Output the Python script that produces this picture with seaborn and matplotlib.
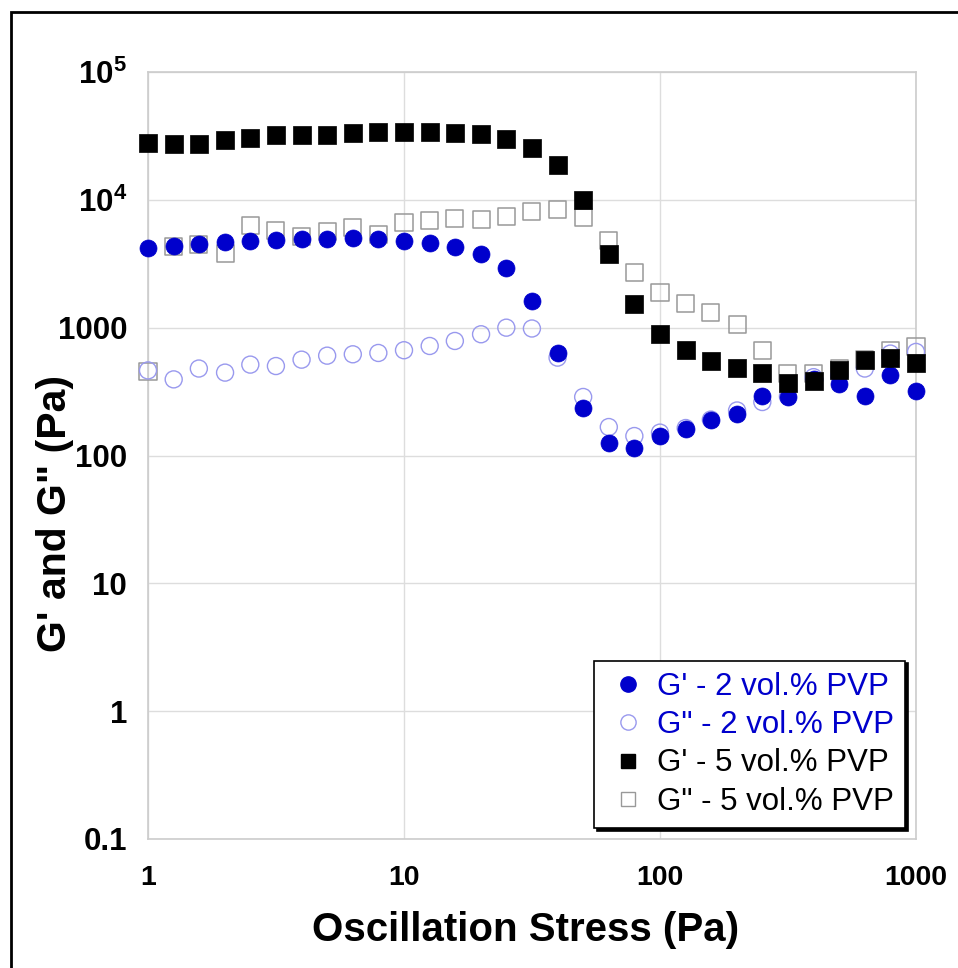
import matplotlib
matplotlib.use("Agg")
import matplotlib.pyplot as plt
import seaborn as sns
import pandas as pd
from matplotlib.lines import Line2D
from matplotlib.patches import Rectangle

stress = [1, 1.26, 1.58, 2.0, 2.51, 3.16, 3.98, 5.01, 6.31, 7.94,
          10, 12.6, 15.8, 20, 25.1, 31.6, 39.8, 50.1, 63.1, 79.4,
          100, 126, 158, 200, 251, 316, 398, 501, 631, 794, 1000]

g1_2 = [4210, 4340, 4480, 4640, 4750, 4840, 4930, 4930, 5010, 4930,
        4780, 4560, 4290, 3760, 2940, 1620, 634, 235, 126, 115,
        142, 160, 188, 212, 290, 287, 400, 365, 290, 424, 319]
g2_2 = [463, 394, 479, 445, 514, 501, 562, 604, 619, 634,
        666, 719, 787, 888, 1000, 985, 583, 287, 167, 142,
        151, 164, 191, 225, 262, 290, 410, 420, 479, 627, 646]
g1_5 = [28000, 27300, 27300, 29400, 30300, 32100, 32100, 32100, 33100, 34100,
        34000, 34100, 33500, 32500, 30100, 25500, 18600, 10000, 3760, 1520,
        887, 665, 548, 483, 441, 369, 380, 470, 562, 579, 533]
g2_5 = [458, 4290, 4480, 3800, 6310, 5720, 5200, 5610, 6040, 5390,
        6610, 6930, 7150, 7060, 7360, 8060, 8410, 7330, 4780, 2680,
        1880, 1550, 1320, 1060, 658, 438, 441, 480, 560, 665, 706]

labels = ["G' - 2 vol.% PVP", "G\" - 2 vol.% PVP", "G' - 5 vol.% PVP", "G\" - 5 vol.% PVP"]
x_ticks = [1, 10, 100, 1000]
x_ticklabels = ["1", "10", "100", "1000"]
y_ticks = [0.1, 1, 10, 100, 1000, 1e4, 1e5]
y_ticklabels = ["0.1", "1", "10", "100", "1000", r"10$^{4}$", r"10$^{5}$"]

sns.set_theme(style="white")
plt.rcParams['font.family'] = ['Liberation Sans', 'DejaVu Sans']
plt.rcParams['mathtext.fontset'] = 'custom'
plt.rcParams['mathtext.rm'] = 'Liberation Sans:bold'
plt.rcParams['mathtext.default'] = 'rm'
plt.rcParams['text.color'] = 'black'
plt.rcParams['axes.labelcolor'] = 'black'
plt.rcParams['xtick.color'] = 'black'
plt.rcParams['ytick.color'] = 'black'

W, H = 958, 968
fig = plt.figure(figsize=(W / 100, H / 100), dpi=100)
ax = fig.add_axes([148 / W, 1 - 839 / H, (916 - 148) / W, (839 - 72) / H])

blue = "#0000CC"
lightblue = "#9999EE"
gray = "#999999"

df = pd.DataFrame({"stress": stress, "g1_2": g1_2, "g2_2": g2_2, "g1_5": g1_5, "g2_5": g2_5})

ms = 150
sns.scatterplot(data=df, x="stress", y="g2_5", marker="s", s=ms, facecolor="none",
                edgecolor=gray, linewidth=1.1, ax=ax, zorder=3, clip_on=False)
sns.scatterplot(data=df, x="stress", y="g2_2", marker="o", s=ms, facecolor="none",
                edgecolor=lightblue, linewidth=1.0, ax=ax, zorder=4, clip_on=False)
sns.scatterplot(data=df, x="stress", y="g1_2", marker="o", s=ms, color=blue,
                edgecolor=blue, linewidth=0.5, ax=ax, zorder=5, clip_on=False)
sns.scatterplot(data=df, x="stress", y="g1_5", marker="s", s=ms, color="black",
                edgecolor="black", linewidth=0.5, ax=ax, zorder=6, clip_on=False)

ax.set_xscale("log")
ax.set_yscale("log")
ax.set_xlim(1, 1000)
ax.set_ylim(0.1, 1e5)
ax.set_xticks(x_ticks)
ax.set_xticklabels(x_ticklabels)
ax.set_yticks(y_ticks)
ax.set_yticklabels(y_ticklabels)
ax.minorticks_off()
ax.grid(True, which="major", color="#dddddd", linewidth=1.0)
ax.set_axisbelow(True)
for sp in ax.spines.values():
    sp.set_color("#cccccc")
    sp.set_linewidth(1.2)
ax.tick_params(axis="x", which="major", length=0, labelsize=20.5, pad=19)
ax.tick_params(axis="y", which="major", length=0, labelsize=22.5, pad=15)
for t in ax.get_xticklabels() + ax.get_yticklabels():
    t.set_fontweight("bold")

ax.set_xlabel("Oscillation Stress (Pa)", fontsize=29, fontweight="bold")
ax.xaxis.set_label_coords(0.491, -0.094)
ax.set_ylabel("G' and G\" (Pa)", fontsize=29.5, fontweight="bold")
ax.yaxis.set_label_coords(-0.097, 0.425)

handles = [
    Line2D([], [], marker="o", linestyle="none", markersize=11, markerfacecolor=blue, markeredgecolor=blue),
    Line2D([], [], marker="o", linestyle="none", markersize=11, markerfacecolor="none", markeredgecolor=lightblue),
    Line2D([], [], marker="s", linestyle="none", markersize=10, markerfacecolor="black", markeredgecolor="black"),
    Line2D([], [], marker="s", linestyle="none", markersize=10, markerfacecolor="none", markeredgecolor=gray),
]
leg = ax.legend(handles, labels, loc="lower right",
                bbox_to_anchor=((905 - 148) / 768, (839 - 828) / 767),
                fontsize=22.5, frameon=True, fancybox=False,
                shadow={"color": "black", "alpha": 1},
                edgecolor="black", framealpha=1, handletextpad=0.2, labelspacing=0.265,
                borderpad=0.36, handlelength=1.45, borderaxespad=0)
leg.get_frame().set_linewidth(1.2)
leg.set_zorder(20)
for txt, c in zip(leg.get_texts(), [blue, blue, "black", "black"]):
    txt.set_color(c)

fig.patches.append(Rectangle((11 / W, -0.1), 1.2, 1 - 12 / H + 0.1, transform=fig.transFigure,
                             fill=False, edgecolor="black", linewidth=2, zorder=10))

fig.savefig("out.png", dpi=100)
